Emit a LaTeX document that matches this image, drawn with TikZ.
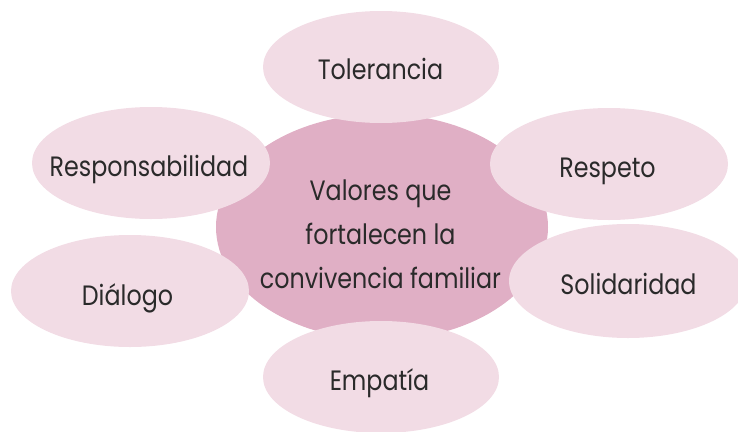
\documentclass[tikz,border=0pt]{standalone}
\usepackage{fontspec}
\setmainfont[FakeStretch=0.85]{Poppins}
\definecolor{petal}{HTML}{F2DCE5}
\definecolor{core}{HTML}{E0AFC5}
\definecolor{ink}{HTML}{2A2A2A}
\begin{document}
\begin{tikzpicture}[x=1pt,y=-1pt,
  lbl/.style={font=\fontsize{28}{44}\selectfont, text=ink, align=center, inner sep=0pt}]
\useasboundingbox (0,0) rectangle (738,431);
\clip (0,0) rectangle (738,431);
\path[fill=core] (382,227) ellipse [x radius=166, y radius=113];
\path[fill=petal] (381,67) ellipse [x radius=118, y radius=56];
\path[fill=petal] (151,163) ellipse [x radius=119, y radius=56];
\path[fill=petal] (609,164) ellipse [x radius=119, y radius=56];
\path[fill=petal] (130,291) ellipse [x radius=119, y radius=56];
\path[fill=petal] (628,281) ellipse [x radius=119, y radius=57];
\path[fill=petal] (381,377) ellipse [x radius=118, y radius=56];
\node[lbl] (core) at (380.5,234) {Valores que\\fortalecen la\\convivencia familiar};
\node[lbl, anchor=base] (t) at (380.5,79) {Tolerancia};
\node[lbl, anchor=base] (r) at (149,176) {Responsabilidad};
\node[lbl, anchor=base] (p) at (607.5,177) {Respeto};
\node[lbl, anchor=base] (d) at (127.5,305) {Diálogo};
\node[lbl, anchor=base] (s) at (628.5,294) {Solidaridad};
\node[lbl, anchor=base] (e) at (379.5,390) {Empatía};
\end{tikzpicture}
\end{document}
